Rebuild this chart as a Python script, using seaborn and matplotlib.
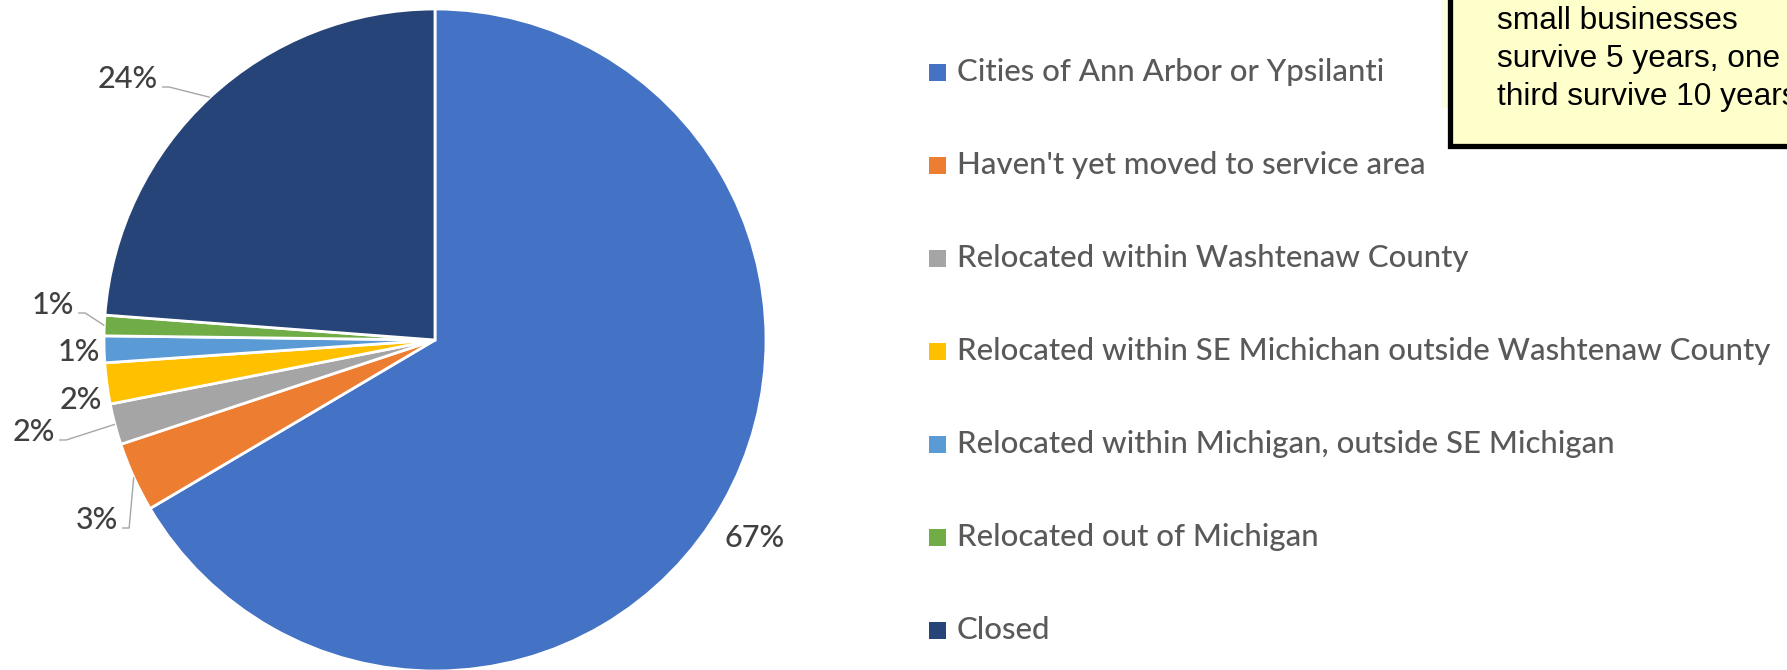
import matplotlib
matplotlib.use("Agg")
import matplotlib.pyplot as plt
import seaborn as sns
import numpy as np
from matplotlib.patches import Rectangle

# ---------------- data ----------------
categories = [
    "Cities of Ann Arbor or Ypsilanti",
    "Haven't yet moved to service area",
    "Relocated within Washtenaw County",
    "Relocated within SE Michichan outside Washtenaw County",
    "Relocated within Michigan, outside SE Michigan",
    "Relocated out of Michigan",
    "Closed",
]
shares = [66.5, 3.4, 2.0, 2.0, 1.3, 1.0, 23.8]
pct_labels = ["67%", "3%", "2%", "2%", "1%", "1%", "24%"]
colors = ["#4472C4", "#ED7D31", "#A5A5A5", "#FFC000", "#5B9BD5", "#70AD47", "#264478"]
note_lines = ["small businesses", "survive 5 years, one", "third survive 10 years"]

# ---------------- layout (pixel coords, image y downwards) ----------------
W, H = 1787, 670
CX, CY, R = 435, 340, 331
label_centers = [(755, 538), (97, 520), (34, 432), (81, 400), (79, 352), (53, 305), (128, 79)]
label_leader = [False, True, True, False, False, True, True]
legend_x, legend_y0, legend_dy = 929, 72, 93
sq = 17


def Y(y):
    return H - y


sns.set_theme(style="white")
palette = sns.color_palette(colors)
plt.rcParams["font.family"] = ["Lato", "DejaVu Sans"]

fig = plt.figure(figsize=(W / 100, H / 100), dpi=100)
ax = fig.add_axes([0, 0, 1, 1])
wedges, _ = ax.pie(
    shares,
    colors=palette,
    startangle=90,
    counterclock=False,
    center=(CX, Y(CY)),
    radius=R,
    frame=True,
    wedgeprops=dict(edgecolor="white", linewidth=2.0),
)
ax.set_xlim(0, W)
ax.set_ylim(0, H)
ax.set_aspect("equal")
ax.axis("off")

renderer = fig.canvas.get_renderer()


def fit(texts, ref, target_w):
    ref.set_fontsize(20)
    w = ref.get_window_extent(renderer).width
    fs = 20 * target_w / w
    for t in texts:
        t.set_fontsize(fs)
    return fs


# percentage labels
ptexts = []
for lab, (x, y) in zip(pct_labels, label_centers):
    t = ax.text(x, Y(y), lab, ha="center", va="center", color="#404040",
                fontsize=20, fontweight="medium")
    ptexts.append(t)
fit(ptexts, ptexts[-1], 60)

for w, t, (x, y), lead in zip(wedges, ptexts, label_centers, label_leader):
    if not lead:
        continue
    mid = np.deg2rad((w.theta1 + w.theta2) / 2)
    ex, ey = CX + R * np.cos(mid), Y(CY) + R * np.sin(mid)
    bb = t.get_window_extent(renderer)
    right = bb.x1
    sx, sy = right + 4, Y(y + 8)
    ax.plot([sx, sx + 7, ex], [sy, sy, ey], color="#A6A6A6", lw=1.0, solid_capstyle="butt")

# legend
ltexts = []
for i, (cat, c) in enumerate(zip(categories, palette)):
    yy = legend_y0 + legend_dy * i
    ax.add_patch(Rectangle((legend_x, Y(yy) - sq / 2), sq, sq, facecolor=c, edgecolor="none"))
    t = ax.text(legend_x + sq + 11, Y(yy), cat, ha="left", va="center", color="#595959",
                fontsize=20, fontweight="medium")
    ltexts.append(t)
fit(ltexts, ltexts[3], 813)

# note box (top right, cut off by the edge)
ax.add_patch(Rectangle((1441, Y(108)), 12, 108, facecolor="#FDFDE3", edgecolor="none"))
ax.add_patch(Rectangle((1450, Y(145.5)), 400, 200, facecolor="#FFFFCC", edgecolor="black", linewidth=3.8))
ntexts = []
for i, line in enumerate(note_lines):
    t = ax.text(1497, Y(21 + 38 * i), line, ha="left", va="center", color="black",
                family=["Liberation Sans", "DejaVu Sans"], fontsize=20)
    ntexts.append(t)
fit(ntexts, ntexts[1], 283)

fig.savefig("out.png", dpi=100)
